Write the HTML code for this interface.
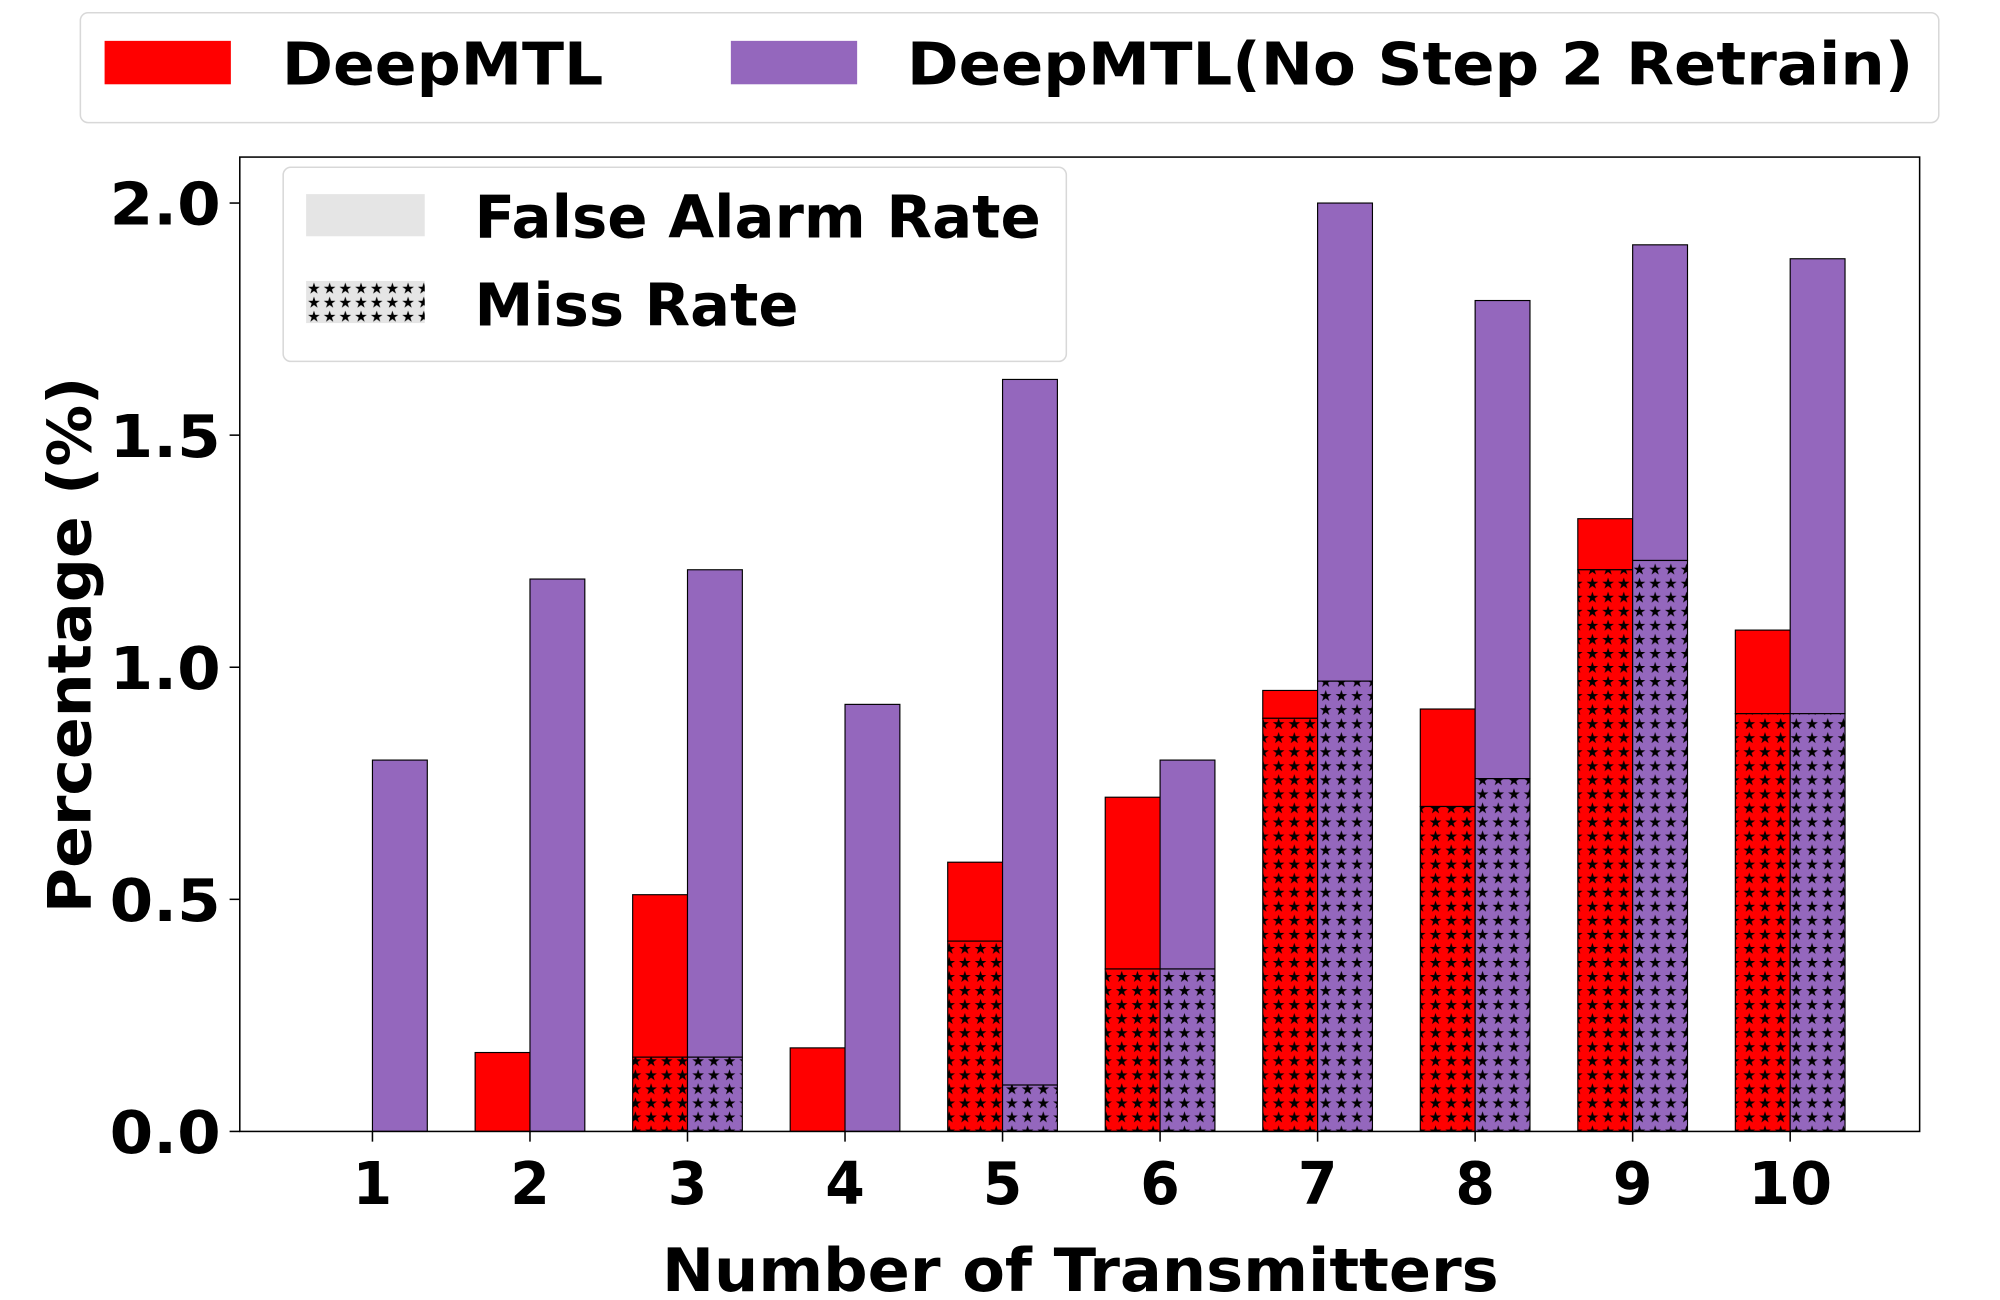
<!DOCTYPE html>
<html><head><meta charset="utf-8"><style>
html,body{margin:0;padding:0;background:#fff;}
svg{display:block;}
text{font-family:"DejaVu Sans","Liberation Sans",sans-serif;font-weight:bold;fill:#000;}
</style></head><body>
<svg id="chart" width="2000" height="1300" viewBox="0 0 1568 1018" preserveAspectRatio="none" xmlns="http://www.w3.org/2000/svg">
<defs>
<pattern id="starR" patternUnits="userSpaceOnUse" width="12.3" height="11" x="0" y="0">
<rect width="12.3" height="11" fill="#ff0000"/>
<text x="6.15" y="10" font-size="12" text-anchor="middle" style="font-weight:normal">★</text>
</pattern>
<pattern id="starP" patternUnits="userSpaceOnUse" width="12.3" height="11" x="0" y="0">
<rect width="12.3" height="11" fill="#9467bd"/>
<text x="6.15" y="10" font-size="12" text-anchor="middle" style="font-weight:normal">★</text>
</pattern>
<pattern id="starG" patternUnits="userSpaceOnUse" width="12.3" height="11" x="240" y="220">
<rect width="12.3" height="11" fill="#e5e5e5"/>
<text x="6.15" y="10" font-size="12" text-anchor="middle" style="font-weight:normal">★</text>
</pattern>
</defs>
<g id="bars"></g>
<rect x="188" y="123" width="1317" height="763" fill="none" stroke="#000" stroke-width="1.2"/>
<g id="yticks"></g>
<g id="xticks"></g>
<text x="519" y="1011" font-size="47" textLength="656" lengthAdjust="spacingAndGlyphs">Number of Transmitters</text>
<text transform="translate(71,715) rotate(-90)" font-size="47" textLength="420" lengthAdjust="spacingAndGlyphs">Percentage (%)</text>
<g>
<rect x="63" y="10" width="1457" height="86" rx="6" fill="#fff" stroke="#d8d8d8" stroke-width="1.2"/>
<rect x="82" y="32" width="99" height="34" fill="#ff0000"/>
<text x="221" y="66" font-size="46" textLength="252" lengthAdjust="spacingAndGlyphs">DeepMTL</text>
<rect x="573" y="32" width="99" height="34" fill="#9467bd"/>
<text x="711" y="66" font-size="46" textLength="789" lengthAdjust="spacingAndGlyphs">DeepMTL(No Step 2 Retrain)</text>
</g>
<g>
<rect x="222" y="131" width="614" height="152" rx="6" fill="#fff" fill-opacity="0.85" stroke="#d8d8d8" stroke-width="1.2"/>
<rect x="240" y="152" width="93" height="33" fill="#e5e5e5"/>
<text x="372" y="186" font-size="46" textLength="444" lengthAdjust="spacingAndGlyphs">False Alarm Rate</text>
<rect x="240" y="220" width="93" height="33" fill="url(#starG)"/>
<text x="372" y="255" font-size="46" textLength="254" lengthAdjust="spacingAndGlyphs">Miss Rate</text>
</g>
</svg>
<script>
const categories = ["1","2","3","4","5","6","7","8","9","10"];
const redTotal = [0, 0.17, 0.51, 0.18, 0.58, 0.72, 0.95, 0.91, 1.32, 1.08];
const redMiss = [0, 0, 0.16, 0, 0.41, 0.35, 0.89, 0.70, 1.21, 0.90];
const purpleTotal = [0.80, 1.19, 1.21, 0.92, 1.62, 0.80, 2.00, 1.79, 1.91, 1.88];
const purpleMiss = [0, 0, 0.16, 0, 0.10, 0.35, 0.97, 0.76, 1.23, 0.90];
const yTicks = [0, 0.5, 1.0, 1.5, 2.0];
const yTickLabels = ["0.0", "0.5", "1.0", "1.5", "2.0"];

const NS = "http://www.w3.org/2000/svg";
const y0 = 886, pxPerUnit = 363.5;
function yScale(v){ return y0 - v * pxPerUnit; }
function xScale(i){ return 292 + i * 123.5; }
const barW = 43;
const gB = document.getElementById('bars');
function rect(x, y, w, h, fill, name){
  const r = document.createElementNS(NS, 'rect');
  r.setAttribute('x', x); r.setAttribute('y', y);
  r.setAttribute('width', w); r.setAttribute('height', Math.max(0, h));
  r.setAttribute('fill', fill); r.setAttribute('stroke', '#000'); r.setAttribute('stroke-width', '0.9');
  
  
  gB.appendChild(r);
}
categories.forEach((c, i) => {
  const cx = xScale(i);
  rect(cx - barW, yScale(redTotal[i]), barW, yScale(redMiss[i]) - yScale(redTotal[i]), '#ff0000', 'bar-deepmtl-false-alarm-' + c);
  if (redMiss[i] > 0) rect(cx - barW, yScale(redMiss[i]), barW, y0 - yScale(redMiss[i]), 'url(#starR)', 'bar-deepmtl-miss-' + c);
  rect(cx, yScale(purpleTotal[i]), barW, yScale(purpleMiss[i]) - yScale(purpleTotal[i]), '#9467bd', 'bar-noretrain-false-alarm-' + c);
  if (purpleMiss[i] > 0) rect(cx, yScale(purpleMiss[i]), barW, y0 - yScale(purpleMiss[i]), 'url(#starP)', 'bar-noretrain-miss-' + c);
});
const gY = document.getElementById('yticks');
yTicks.forEach((v, i) => {
  const l = document.createElementNS(NS, 'line');
  l.setAttribute('x1', 180); l.setAttribute('x2', 188);
  l.setAttribute('y1', yScale(v)); l.setAttribute('y2', yScale(v));
  l.setAttribute('stroke', '#000'); l.setAttribute('stroke-width', '1.2');
  
  
  gY.appendChild(l);
  const t = document.createElementNS(NS, 'text');
  t.setAttribute('x', 86); t.setAttribute('y', yScale(v) + 17);
  t.setAttribute('font-size', '46');
  t.setAttribute('textLength', '87'); t.setAttribute('lengthAdjust', 'spacingAndGlyphs');
  t.textContent = yTickLabels[i];
  
  
  gY.appendChild(t);
});
const gX = document.getElementById('xticks');
categories.forEach((c, i) => {
  const l = document.createElementNS(NS, 'line');
  l.setAttribute('x1', xScale(i)); l.setAttribute('x2', xScale(i));
  l.setAttribute('y1', 886); l.setAttribute('y2', 894);
  l.setAttribute('stroke', '#000'); l.setAttribute('stroke-width', '1.2');
  
  
  gX.appendChild(l);
  const t = document.createElementNS(NS, 'text');
  const w = c.length > 1 ? 66 : 31;
  t.setAttribute('x', xScale(i) - w / 2); t.setAttribute('y', 943);
  t.setAttribute('font-size', '46');
  t.setAttribute('textLength', w); t.setAttribute('lengthAdjust', 'spacingAndGlyphs');
  t.textContent = c;
  
  
  gX.appendChild(t);
});
</script>
</body></html>
